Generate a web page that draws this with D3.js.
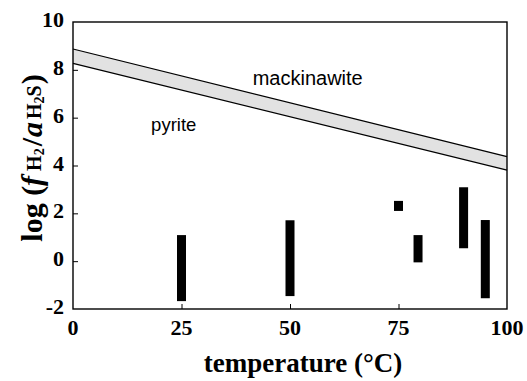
<!DOCTYPE html>
<html>
<head>
<meta charset="utf-8">
<script src="https://cdn.jsdelivr.net/npm/d3@7/dist/d3.min.js"></script>
<style>
  html, body { margin: 0; padding: 0; background: #fff; }
  svg { display: block; }
</style>
</head>
<body>
<svg id="chart" width="527" height="381"></svg>
<script>
// Pyrite / mackinawite boundary band: log(fH2/aH2S) vs temperature (°C)
const bandTemps = [0, 100];
const bandUpper = [8.87, 4.37];
const bandLower = [8.27, 3.81];

// Measured ranges (vertical bars) at each temperature
const barTemps = [25, 50, 75, 79.5, 90, 95];
const barLow   = [-1.67, -1.46, 2.10, -0.05, 0.54, -1.55];
const barHigh  = [1.09, 1.71, 2.52, 1.09, 3.09, 1.72];

// Axis ticks
const xTicks = [0, 25, 50, 75, 100];
const yTicks = [-2, 0, 2, 4, 6, 8, 10];

// Field labels
const fieldNames = ["mackinawite", "pyrite"];
const fieldT = [41.4, 18.0];
const fieldY = [7.37, 5.45];
const fieldSize = [20, 18.5];

const margin = { left: 73, right: 20, top: 22, bottom: 72 };
const W = 527, H = 381;
const svg = d3.select("#chart");

const x = d3.scaleLinear().domain([0, 100]).range([margin.left, W - margin.right]);
const y = d3.scaleLinear().domain([-2, 10]).range([H - margin.bottom, margin.top]);

const serif = "'Liberation Serif', 'Times New Roman', serif";
const sans = "'Liberation Sans', Arial, Helvetica, sans-serif";

// Band between the two boundary curves
const bandData = bandTemps.map((t, i) => ({ t, hi: bandUpper[i], lo: bandLower[i] }));
svg.append("path")
  .datum(bandData)
  .attr("fill", "#e2e2e2")
  .attr("d", d3.area().x(d => x(d.t)).y0(d => y(d.lo)).y1(d => y(d.hi)));

["hi", "lo"].forEach(k => {
  svg.append("path")
    .datum(bandData)
    .attr("fill", "none")
    .attr("stroke", "#000")
    .attr("stroke-width", 1.2)
    .attr("d", d3.line().x(d => x(d.t)).y(d => y(d[k])));
});

// Bars
const barW = 9;
svg.append("g").selectAll("rect")
  .data(barTemps.map((t, i) => ({ t, lo: barLow[i], hi: barHigh[i] })))
  .join("rect")
  .attr("x", d => x(d.t) - barW / 2)
  .attr("width", barW)
  .attr("y", d => y(d.hi))
  .attr("height", d => y(d.lo) - y(d.hi))
  .attr("fill", "#000");

// Axes with inward ticks
const xAxis = svg.append("g")
  .attr("transform", `translate(0,${y(-2)})`)
  .call(d3.axisBottom(x).tickValues(xTicks.slice(1, -1)).tickSizeInner(-5).tickSizeOuter(0).tickFormat(""));
const yAxis = svg.append("g")
  .attr("transform", `translate(${x(0)},0)`)
  .call(d3.axisLeft(y).tickValues(yTicks.slice(1, -1)).tickSizeInner(-5).tickSizeOuter(0).tickFormat(""));
[xAxis, yAxis].forEach(g => {
  g.select(".domain").remove();
  g.selectAll("line").attr("stroke", "#000").attr("stroke-width", 1);
});

// Frame
svg.append("rect")
  .attr("x", x(0)).attr("y", y(10))
  .attr("width", x(100) - x(0)).attr("height", y(-2) - y(10))
  .attr("fill", "none").attr("stroke", "#000").attr("stroke-width", 1.4);

// Tick labels
svg.append("g").selectAll("text")
  .data(xTicks).join("text")
  .attr("x", d => x(d)).attr("y", 335)
  .attr("text-anchor", "middle")
  .attr("font-family", serif).attr("font-weight", "bold").attr("font-size", 22)
  .text(d => d);

svg.append("g").selectAll("text")
  .data(yTicks).join("text")
  .attr("x", 64).attr("y", d => y(d) + 5)
  .attr("text-anchor", "end")
  .attr("font-family", serif).attr("font-weight", "bold").attr("font-size", 22)
  .text(d => d);

// Field labels
svg.append("g").selectAll("text")
  .data(fieldNames).join("text")
  .attr("x", (d, i) => x(fieldT[i])).attr("y", (d, i) => y(fieldY[i]))
  .attr("font-family", sans).attr("font-size", (d, i) => fieldSize[i])
  .text(d => d);

// X axis title
svg.append("text")
  .attr("x", 303).attr("y", 372)
  .attr("text-anchor", "middle")
  .attr("font-family", serif).attr("font-weight", "bold").attr("font-size", 27)
  .text("temperature (°C)");

// Y axis title: log (f_H2 / a_H2S)
const yt = svg.append("text")
  .attr("transform", "translate(42,158) rotate(-90)")
  .attr("text-anchor", "middle")
  .attr("font-family", serif).attr("font-weight", "bold").attr("font-size", 30);
yt.append("tspan").text("log (");
yt.append("tspan").attr("font-style", "italic").text("f");
yt.append("tspan").attr("font-size", 20).attr("dx", 5).attr("dy", -1).text("H");
yt.append("tspan").attr("font-size", 14).attr("dy", 3).text("2");
yt.append("tspan").attr("dx", 2).attr("dy", -2).text("/");
yt.append("tspan").attr("dx", 1).attr("font-style", "italic").text("a");
yt.append("tspan").attr("font-size", 20).attr("dx", 3).attr("dy", -1).text("H");
yt.append("tspan").attr("font-size", 14).attr("dy", 3).text("2");
yt.append("tspan").attr("font-size", 20).attr("dy", -3).text("S");
yt.append("tspan").attr("dx", 1).attr("dy", 1).text(")");
</script>
</body>
</html>
